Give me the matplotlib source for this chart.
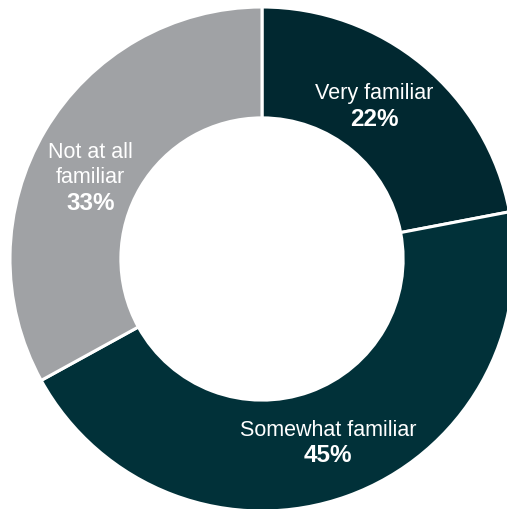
import matplotlib.pyplot as plt
import numpy as np

labels = ['Very familiar', 'Somewhat familiar', 'Not at all\nfamiliar']
shares = [22, 45, 33]
colors = ['#012830', '#013139', '#a0a2a5']

plt.rcParams['font.family'] = ['Liberation Sans', 'DejaVu Sans']

fig = plt.figure(figsize=(5.07, 5.10), dpi=100)
# ring centre sits at (262, 260) px with a 252 px outer radius
ax = fig.add_axes([10 / 507, -2 / 510, 504 / 507, 504 / 510])

wedges, _ = ax.pie(
    shares,
    colors=colors,
    startangle=90,
    counterclock=False,
    radius=1.0,
    wedgeprops=dict(width=0.44, edgecolor='white', linewidth=2.2),
)
ax.set_xlim(-1, 1)
ax.set_ylim(-1, 1)
ax.axis('off')

# label radius and small angular nudges per slice
label_r = [0.754, 0.772, 0.754]
nudge = [3.5, 0.0, 4.9]
line_h = 0.101
for w, lab, val, r, dn in zip(wedges, labels, shares, label_r, nudge):
    mid = np.deg2rad((w.theta1 + w.theta2) / 2 + dn)
    x, y = r * np.cos(mid), r * np.sin(mid)
    lines = lab.split('\n')
    n = len(lines) + 1
    top = y + line_h * (n - 1) / 2
    for i, ln in enumerate(lines):
        ax.text(x, top - i * line_h, ln, ha='center', va='center',
                color='white', fontsize=15.5)
    ax.text(x, top - len(lines) * line_h, f'{val}%', ha='center',
            va='center', color='white', fontsize=17.5, fontweight='bold')

fig.savefig('out.png', dpi=100, facecolor='white')
